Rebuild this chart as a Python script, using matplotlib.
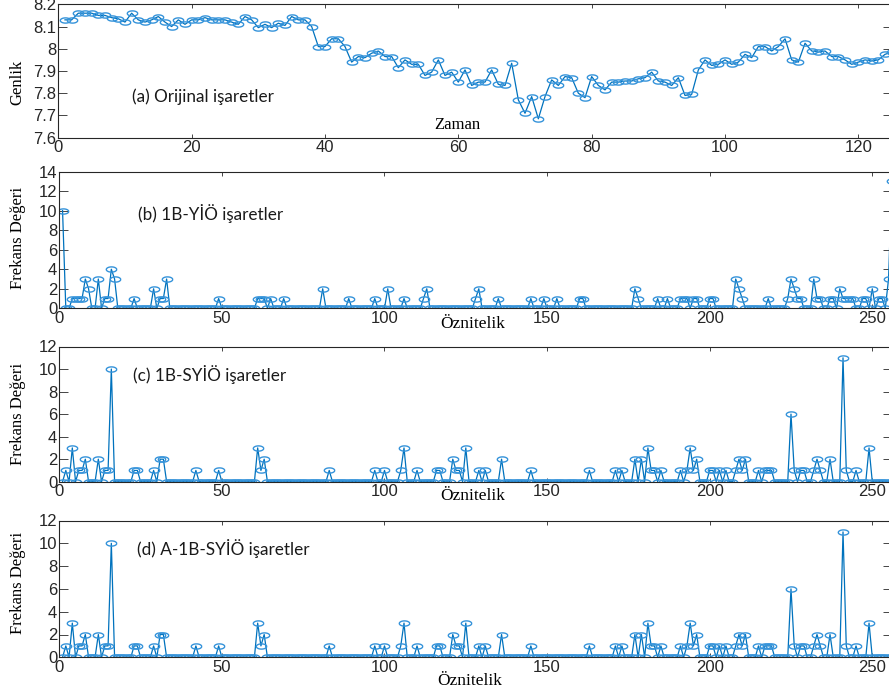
import numpy as np
import matplotlib
matplotlib.use('Agg')
import matplotlib.pyplot as plt
from matplotlib.path import Path
from matplotlib.ticker import FormatStrFormatter

# (a) original signal, samples 1..125
orijinal = [8.13, 8.13, 8.16, 8.16, 8.16, 8.15, 8.15, 8.14, 8.135, 8.12,
            8.16, 8.13, 8.12, 8.13, 8.145, 8.12, 8.10, 8.13, 8.11, 8.13,
            8.13, 8.14, 8.13, 8.13, 8.13, 8.12, 8.11, 8.145, 8.13, 8.095,
            8.11, 8.095, 8.115, 8.105, 8.145, 8.13, 8.13, 8.10, 8.01, 8.01,
            8.045, 8.045, 8.01, 7.94, 7.965, 7.96, 7.98, 7.99, 7.965, 7.965,
            7.915, 7.95, 7.93, 7.93, 7.88, 7.895, 7.95, 7.88, 7.895, 7.85,
            7.905, 7.835, 7.85, 7.85, 7.905, 7.84, 7.835, 7.935, 7.77, 7.71,
            7.785, 7.685, 7.785, 7.86, 7.835, 7.875, 7.87, 7.80, 7.78, 7.875,
            7.835, 7.815, 7.85, 7.85, 7.855, 7.855, 7.865, 7.87, 7.895, 7.855,
            7.85, 7.835, 7.87, 7.79, 7.795, 7.905, 7.95, 7.925, 7.93, 7.95,
            7.93, 7.94, 7.975, 7.96, 8.01, 8.01, 7.99, 8.01, 8.045, 7.95,
            7.94, 8.025, 7.99, 7.985, 7.99, 7.965, 7.965, 7.95, 7.93, 7.94,
            7.95, 7.945, 7.95, 7.975, 7.985]

# (b) 1B-YIO histogram, 256 features, nonzero bins only (1-based)
b_idx = [1, 4, 5, 6, 7, 8, 9, 12, 14, 15, 16, 17, 23, 29, 31, 32, 33, 49,
         61, 62, 63, 65, 69, 81, 89, 97, 101, 106, 112, 113, 128, 129, 135,
         145, 149, 153, 160, 161, 177, 178, 184, 187, 191, 192, 193, 195, 196,
         200, 201, 208, 209, 210, 218, 224, 225, 226, 227, 228, 232, 233, 234,
         237, 238, 240, 241, 242, 243, 244, 247, 248, 250, 252, 253, 255, 256]
b_val = [10, 1, 1, 1, 1, 3, 2, 3, 1, 1, 4, 3, 1, 2, 1, 1, 3, 1,
         1, 1, 1, 1, 1, 2, 1, 1, 2, 1, 1, 2, 1, 2, 1,
         1, 1, 1, 1, 1, 2, 1, 1, 1, 1, 1, 1, 1, 1,
         1, 1, 3, 2, 1, 1, 1, 3, 2, 1, 1, 3, 1, 1,
         1, 1, 2, 1, 1, 1, 1, 1, 1, 2, 1, 1, 3, 13]

# (c) 1B-SYIO histogram, nonzero bins
c_idx = [2, 4, 6, 7, 8, 12, 14, 15, 16, 23, 24, 29, 31, 32, 42, 49, 61, 62,
         63, 83, 97, 100, 105, 106, 110, 116, 117, 121, 122, 123, 125, 129,
         131, 136, 145, 163, 171, 173, 177, 179, 181, 182, 183, 185, 191, 193,
         194, 195, 196, 200, 201, 203, 205, 208, 209, 210, 211, 215, 217, 218,
         219, 225, 226, 228, 229, 232, 233, 234, 237, 241, 242, 245, 249]
c_val = [1, 3, 1, 1, 2, 2, 1, 1, 10, 1, 1, 1, 2, 2, 1, 1, 3, 1,
         2, 1, 1, 1, 1, 3, 1, 1, 1, 2, 1, 1, 3, 1,
         1, 2, 1, 1, 1, 1, 2, 2, 3, 1, 1, 1, 1, 1,
         3, 1, 2, 1, 1, 1, 1, 1, 2, 1, 2, 1, 1, 1,
         1, 6, 1, 1, 1, 1, 2, 1, 2, 11, 1, 1, 3]

# (d) A-1B-SYIO histogram, nonzero bins (same as c in the picture)
d_idx = list(c_idx)
d_val = list(c_val)

N_FEAT = 256


def hist(idx, val):
    h = np.zeros(N_FEAT)
    h[np.array(idx) - 1] = val
    return h


W, H = 889, 695


def box(l, t, r, b):
    return [l / W, 1 - b / H, (r - l) / W, (b - t) / H]


t = np.linspace(0, 2 * np.pi, 40)
ellipse = Path(np.column_stack([np.cos(t), 0.5 * np.sin(t)]))

line_kw = dict(color='#0072BD', lw=0.9, marker=ellipse, ms=7.5,
               mfc='none', mec='#3593da', mew=1.0)
tick_col = '#262626'

fig = plt.figure(figsize=(W / 100, H / 100), dpi=100)


def style(ax, xticks, yticks, xmax, ylim):
    ax.set_xlim(0, xmax)
    ax.set_ylim(*ylim)
    ax.set_xticks(xticks)
    ax.set_yticks(yticks)
    ax.tick_params(direction='in', top=True, right=True, labelsize=12,
                   colors=tick_col, width=0.6, pad=2)
    ax.tick_params(axis='x', length=3)
    ax.tick_params(axis='y', length=6.5, pad=1.5)
    for s in ax.spines.values():
        s.set_color(tick_col)
        s.set_linewidth(0.8)
    for lab in ax.get_xticklabels() + ax.get_yticklabels():
        lab.set_family('Liberation Sans')


# (a)
ax_a = fig.add_axes(box(58.3, 4.3, 891.7, 137.7))
ax_a.plot(np.arange(1, len(orijinal) + 1), orijinal, **line_kw)
style(ax_a, range(0, 121, 20), np.arange(7.6, 8.21, 0.1), 125, (7.6, 8.2))
ax_a.yaxis.set_major_formatter(FormatStrFormatter('%g'))

feats = np.arange(1, N_FEAT + 1)
panels = [
    (hist(b_idx, b_val), (171.5, 308.3), (0, 14), range(0, 15, 2)),
    (hist(c_idx, c_val), (346.5, 481.7), (0, 12), range(0, 13, 2)),
    (hist(d_idx, d_val), (520.5, 657.3), (0, 12), range(0, 13, 2)),
]
for h, (top, bot), ylim, yt in panels:
    ax = fig.add_axes(box(59.3, top, 891.8, bot))
    ax.plot(feats, h, **line_kw)
    style(ax, range(0, 251, 50), yt, 256, ylim)

serif = 'Liberation Serif'
# axis labels (placed like the original figure)
fig.text(457 / W, 1 - 129.3 / H, 'Zaman', family=serif, fontsize=12,
         ha='center', va='baseline')
for x, yb in [(473, 328), (473, 500), (470, 685)]:
    fig.text(x / W, 1 - yb / H, 'Öznitelik', family=serif, fontsize=12.5,
             ha='center', va='baseline')
fig.text(17.5 / W, 1 - 82 / H, 'Genlik', family=serif, fontsize=12,
         rotation=90, ha='center', va='center')
for yc in [238, 414, 583]:
    fig.text(18 / W, 1 - yc / H, 'Frekans Değeri', family=serif, fontsize=12,
             rotation=90, ha='center', va='center')

# panel captions
captions = [(132, 97, '(a) Orijinal işaretler'),
            (138, 213, '(b) 1B-YİÖ işaretler'),
            (133, 375, '(c) 1B-SYİÖ işaretler'),
            (137, 549, '(d) A-1B-SYİÖ işaretler')]
for x, y, s in captions:
    fig.text(x / W, 1 - y / H, s, family='Lato', fontsize=12.3,
             ha='left', va='center', color='#1a1a1a')

fig.savefig('out.png', dpi=100)
